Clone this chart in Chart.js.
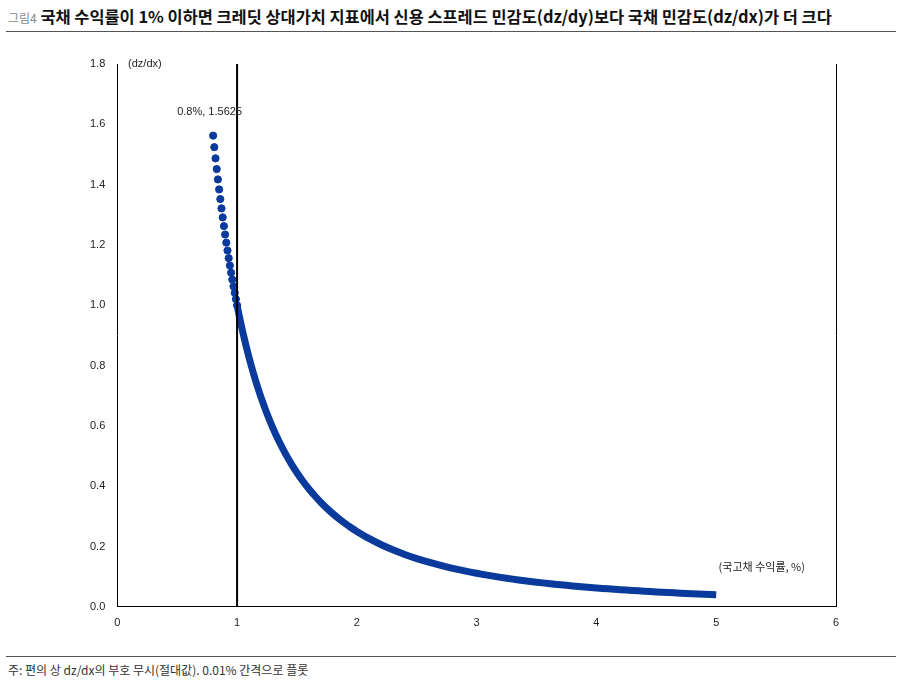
<!DOCTYPE html>
<html><head><meta charset="utf-8">
<script src="https://cdn.jsdelivr.net/npm/chart.js@4"></script>
<style>
body{margin:0;background:#fff;font-family:"Noto Sans CJK KR","Noto Sans",sans-serif;}
#title{position:absolute;left:8px;top:4px;font-size:16.4px;font-weight:bold;color:#111;white-space:nowrap;}
#title span{font-size:12px;font-weight:normal;color:#888;}
#hr1{position:absolute;left:6px;top:31px;width:890px;border-top:1px solid #555;}
#hr2{position:absolute;left:6px;top:656px;width:890px;border-top:1px solid #555;}
#note{position:absolute;left:8px;top:661px;font-size:12px;color:#333;}
#wrap{position:absolute;left:0;top:40px;width:901px;height:612px;}
</style></head><body>
<div id="title"><span>그림4</span> 국채 수익률이 1% 이하면 크레딧 상대가치 지표에서 신용 스프레드 민감도(dz/dy)보다 국채 민감도(dz/dx)가 더 크다</div>
<div id="hr1"></div>
<div id="wrap"><canvas id="c"></canvas></div>
<div id="hr2"></div>
<div id="note">주: 편의 상 dz/dx의 부호 무시(절대값). 0.01% 간격으로 플롯</div>
<script>
// sparse dots near the top where they are visibly separate
var dotX = [0.80,0.81,0.82,0.83,0.84,0.85,0.86,0.87,0.88,0.89,0.90,0.91,0.92,0.93,0.94,0.95,0.96,0.97,0.98,0.99,1.00];
var dotY = [1.5625,1.5242,1.4872,1.4516,1.4172,1.3841,1.3521,1.3212,1.2913,1.2625,1.2346,1.2076,1.1815,1.1562,1.1317,1.1080,1.0851,1.0628,1.0412,1.0203,1.0000];
// merged part of the curve
var curveX = [1.00,1.02,1.04,1.06,1.08,1.10,1.12,1.14,1.16,1.18,1.20,1.25,1.30,1.35,1.40,1.45,1.50,1.55,1.60,1.65,1.70,1.75,1.80,1.85,1.90,1.95,2.0,2.1,2.2,2.3,2.4,2.5,2.6,2.7,2.8,2.9,3.0,3.1,3.2,3.3,3.4,3.5,3.6,3.7,3.8,3.9,4.0,4.1,4.2,4.3,4.4,4.5,4.6,4.7,4.8,4.9,5.0];
var curveY = [1.0000,0.9612,0.9246,0.8900,0.8573,0.8264,0.7972,0.7695,0.7432,0.7182,0.6944,0.6400,0.5917,0.5487,0.5102,0.4756,0.4444,0.4162,0.3906,0.3673,0.3460,0.3265,0.3086,0.2922,0.2770,0.2630,0.2500,0.2268,0.2066,0.1890,0.1736,0.1600,0.1479,0.1372,0.1276,0.1189,0.1111,0.1041,0.0977,0.0918,0.0865,0.0816,0.0772,0.0730,0.0693,0.0657,0.0625,0.0595,0.0567,0.0541,0.0517,0.0494,0.0473,0.0453,0.0434,0.0416,0.0400];
var xTicks = [0,1,2,3,4,5,6];
var yTicks = [0,0.2,0.4,0.6,0.8,1.0,1.2,1.4,1.6,1.8];
var blue = '#0a3a9c';

function pts(xs, ys) { return xs.map(function (x, i) { return {x: x, y: ys[i]}; }); }

var extras = {
    id: 'extras',
    afterDatasetsDraw: function (chart) {
        var c = chart.ctx, x = chart.scales.x, y = chart.scales.y, a = chart.chartArea;
        c.save();
        c.strokeStyle = '#000'; c.lineWidth = 2;
        c.beginPath(); c.moveTo(x.getPixelForValue(1), a.top); c.lineTo(x.getPixelForValue(1), a.bottom); c.stroke();
        c.lineWidth = 1;
        c.beginPath(); c.moveTo(a.right + 0.5, a.top); c.lineTo(a.right + 0.5, a.bottom); c.stroke();
        c.fillStyle = '#222'; c.font = '11px "Liberation Sans", Arial, sans-serif';
        c.textAlign = 'left';
        c.fillText('0.8%, 1.5625', x.getPixelForValue(0.5), y.getPixelForValue(1.63));
        c.fillText('(dz/dx)', x.getPixelForValue(0.09), y.getPixelForValue(1.79));
        c.font = '11px "Noto Sans CJK KR", sans-serif';
        c.fillText('(국고채 수익률, %)', x.getPixelForValue(5.02), y.getPixelForValue(0.12));
        c.restore();
    }
};

new Chart(document.getElementById('c'), {
    type: 'scatter',
    data: {
        datasets: [{
            data: pts(curveX, curveY),
            showLine: true,
            borderColor: blue,
            borderWidth: 7,
            pointRadius: 0,
            tension: 0.3
        }, {
            data: pts(dotX, dotY),
            backgroundColor: blue,
            borderColor: blue,
            pointRadius: 3.6
        }]
    },
    options: {
        responsive: true,
        maintainAspectRatio: false,
        animation: false,
        layout: { padding: { left: 82, right: 65, top: 24, bottom: 16 } },
        plugins: { legend: { display: false }, tooltip: { enabled: false } },
        scales: {
            x: {
                type: 'linear', min: 0, max: 6,
                afterBuildTicks: function (s) { s.ticks = xTicks.map(function (v) { return {value: v}; }); },
                grid: { display: false, drawTicks: true, tickLength: 4 },
                border: { color: '#000' },
                ticks: { color: '#222', font: { size: 11 }, padding: 6 }
            },
            y: {
                min: 0, max: 1.8,
                afterBuildTicks: function (s) { s.ticks = yTicks.map(function (v) { return {value: v}; }); },
                grid: { display: false, tickLength: 4 },
                border: { color: '#000' },
                ticks: { color: '#222', font: { size: 11 }, padding: 8, callback: function (v) { return v.toFixed(1); } }
            }
        }
    },
    plugins: [extras]
});
</script>
</body></html>
